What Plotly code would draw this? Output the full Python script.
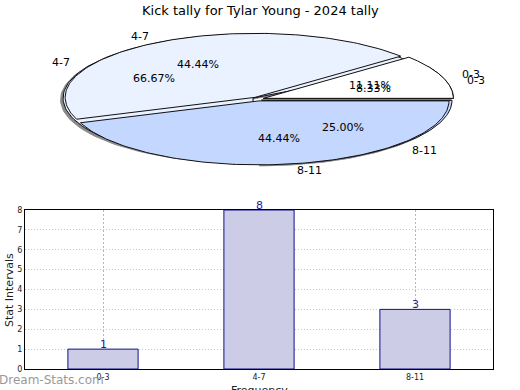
import numpy as np
import plotly.graph_objects as go

# ---------------- data ----------------
categories = ["0-3", "4-7", "8-11"]
bar_values = [1, 8, 3]                 # bar chart + back pie (8.33 / 66.67 / 25.00 %)
pie_front_values = [1, 4, 4]           # front pie (11.11 / 44.44 / 44.44 %)
y_ticks = [0, 1, 2, 3, 4, 5, 6, 7, 8]

title_text = "Kick tally for Tylar Young - 2024 tally"
x_title = "Frequency"
y_title = "Stat Intervals"
slice_colors = ["#ffffff", "#eaf1ff", "#c4d7ff"]

FONT = "DejaVu Sans"

# ---------------- pie geometry (pixel-unit axes) ----------------
CX, CY, RX, RY = 258, 99, 190, 64
EXPLODE = 0.03
LABEL_DIST = 1.10
PCT_DIST = 0.60


def wedges(values):
    vals = np.asarray(values, float)
    fr = vals / vals.sum()
    starts = np.concatenate([[0], np.cumsum(fr)[:-1]]) * 2 * np.pi
    ends = np.cumsum(fr) * 2 * np.pi
    out = []
    for a0, a1, f in zip(starts, ends, fr):
        mid = (a0 + a1) / 2
        ox = EXPLODE * np.cos(mid)
        oy = EXPLODE * np.sin(mid)
        t = np.linspace(a0, a1, 120)
        nx = np.concatenate([[ox], ox + np.cos(t), [ox]])
        ny = np.concatenate([[oy], oy + np.sin(t), [oy]])
        out.append((nx, ny, mid, f, ox, oy))
    return out


def to_px(nx, ny, dx=0, dy=0):
    return CX + RX * np.asarray(nx) + dx, CY - RY * np.asarray(ny) + dy


fig = go.Figure()

# ---------------- bar chart ----------------
fig.add_trace(go.Bar(
    x=categories, y=bar_values, width=0.45,
    marker=dict(color="#ccccE6", line=dict(color="#10108a", width=1)),
    xaxis="x", yaxis="y", showlegend=False, hoverinfo="skip",
))

back = wedges(bar_values)
front = wedges(pie_front_values)

# back pie shadow
for nx, ny, mid, f, ox, oy in back:
    px, py = to_px(nx, ny, -2.5, 1.5)
    fig.add_trace(go.Scatter(x=px, y=py, mode="lines", fill="toself",
                             fillcolor="#8a8a8a", line=dict(color="#8a8a8a", width=1),
                             xaxis="x2", yaxis="y2", showlegend=False, hoverinfo="skip"))
# back pie
for (nx, ny, mid, f, ox, oy), col in zip(back, slice_colors):
    px, py = to_px(nx, ny)
    fig.add_trace(go.Scatter(x=px, y=py, mode="lines", fill="toself",
                             fillcolor=col, line=dict(color="#111111", width=1),
                             xaxis="x2", yaxis="y2", showlegend=False, hoverinfo="skip"))
# front pie
for (nx, ny, mid, f, ox, oy), col in zip(front, slice_colors):
    px, py = to_px(nx, ny)
    fig.add_trace(go.Scatter(x=px, y=py, mode="lines", fill="toself",
                             fillcolor=col, line=dict(color="#111111", width=1),
                             xaxis="x2", yaxis="y2", showlegend=False, hoverinfo="skip"))

annotations = []
# pie labels (matplotlib style: label side-aligned, pct centered)
for pie in (back, front):
    for (nx, ny, mid, f, ox, oy), cat in zip(pie, categories):
        lx, ly = to_px(ox + LABEL_DIST * np.cos(mid), oy + LABEL_DIST * np.sin(mid))
        annotations.append(dict(x=float(lx), y=float(ly), xref="x2", yref="y2",
                                text=cat, showarrow=False,
                                xanchor="left" if np.cos(mid) > 0 else "right",
                                yanchor="middle",
                                font=dict(size=11, color="black", family=FONT)))
        px_, py_ = to_px(ox + PCT_DIST * np.cos(mid), oy + PCT_DIST * np.sin(mid))
        annotations.append(dict(x=float(px_), y=float(py_), xref="x2", yref="y2",
                                text=f"{f*100:.2f}%", showarrow=False,
                                font=dict(size=11, color="black", family=FONT)))

# bar value labels
for cat, v in zip(categories, bar_values):
    annotations.append(dict(x=cat, y=v, xref="x", yref="y", text=str(v),
                            showarrow=False, yanchor="bottom", yshift=-4,
                            font=dict(size=11, color="#22229a", family=FONT)))

# title
annotations.append(dict(x=0.5, y=1 - 10 / 390, xref="paper", yref="paper",
                        text=title_text, showarrow=False, yanchor="middle",
                        font=dict(size=13, color="black", family=FONT)))
# axis titles
annotations.append(dict(x=259 / 520, y=1 - 390 / 390, xref="paper", yref="paper",
                        text=x_title, showarrow=False, yanchor="middle",
                        font=dict(size=11, color="#222222", family=FONT)))
annotations.append(dict(x=9 / 520, y=1 - 290 / 390, xref="paper", yref="paper",
                        text=y_title, showarrow=False, textangle=-90,
                        xanchor="center", yanchor="middle",
                        font=dict(size=11, color="#222222", family=FONT)))
# watermark
annotations.append(dict(x=0, y=1 - 380 / 390, xref="paper", yref="paper",
                        xanchor="left", yanchor="middle", xshift=-3,
                        text="Dream-Stats.com",
                        showarrow=False, font=dict(size=12, color="#9a9a9a", family=FONT)))

fig.update_layout(
    width=520, height=390, autosize=False,
    margin=dict(l=0, r=0, t=0, b=0, pad=0),
    paper_bgcolor="white", plot_bgcolor="white",
    font=dict(family=FONT, color="#222222"),
    annotations=annotations,
    xaxis=dict(domain=[25 / 520, 493 / 520], range=[-0.5, 2.5], automargin=False,
               showline=True, linecolor="black", linewidth=1, mirror=True,
               showgrid=True, gridcolor="#b8b8b8", griddash="2px,2px", gridwidth=1,
               tickfont=dict(size=8), ticks="", ticklen=0,
               anchor="y", zeroline=False),
    yaxis=dict(domain=[(390 - 369) / 390, (390 - 210) / 390], range=[0, 8],
               automargin=False,
               tickvals=y_ticks, showline=True, linecolor="black", linewidth=1, mirror=True,
               showgrid=True, gridcolor="#c8c8c8", griddash="1px,2px", gridwidth=1,
               tickfont=dict(size=8), ticks="", zeroline=False,
               anchor="x"),
    xaxis2=dict(domain=[0, 1], range=[0, 520], visible=False, anchor="y2",
                fixedrange=True, automargin=False),
    yaxis2=dict(domain=[1 - 195 / 390, 1], range=[195, 0], visible=False, anchor="x2",
                fixedrange=True, automargin=False),
)

fig.write_html("out.html",
               config={"displayModeBar": False, "responsive": False},
               default_width=520, default_height=390,
               post_script="document.body.style.margin='0';")
